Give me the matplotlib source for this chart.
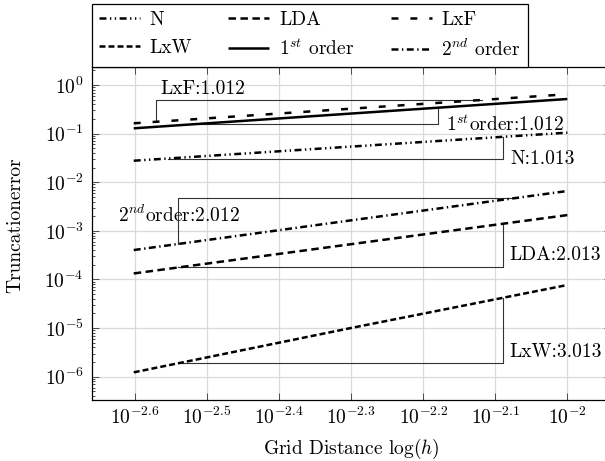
import numpy as np
import matplotlib
matplotlib.use("Agg")
import matplotlib.pyplot as plt
from matplotlib.ticker import FixedLocator, FixedFormatter, LogLocator, NullFormatter, NullLocator

plt.rcParams['font.family'] = ['cmr10', 'DejaVu Serif']
plt.rcParams['mathtext.fontset'] = 'cm'
plt.rcParams['axes.formatter.use_mathtext'] = True
plt.rcParams['lines.scale_dashes'] = False
plt.rcParams['font.size'] = 14

# grid distances and truncation errors
h = [0.0025, 0.005, 0.01]
err_N = [0.0277, 0.054, 0.1045]
err_LDA = [1.33e-4, 5.3e-4, 2.11e-3]
err_LxF = [0.163, 0.325, 0.645]
err_LxW = [1.23e-6, 1.0e-5, 7.7e-5]
err_1st = [0.1285, 0.258, 0.515]
err_2nd = [4.03e-4, 1.64e-3, 6.6e-3]

labels = ["N", "LDA", "LxF", "LxW", r"$1^{st}$ order", r"$2^{nd}$ order"]
slope_labels = ["N:1.013", "LDA:2.013", "LxF:1.012", "LxW:3.013",
                r"$1^{st}$order:1.012", r"$2^{nd}$order:2.012"]
xtick_exp = ["-2.6", "-2.5", "-2.4", "-2.3", "-2.2", "-2.1", "-2"]

series = [err_N, err_LDA, err_LxF, err_LxW, err_1st, err_2nd]
dashes = [(5, 2.5, 1, 2.5, 1, 2.5), (5.4, 3.2), (5.0, 8.6), (4.3, 2.2), None, (5, 2.5, 1, 2.5)]

fig = plt.figure(figsize=(6.05, 4.61), dpi=100)
ax = fig.add_axes([0.1521, 0.1323, 0.857, 0.723])
ax.set_xscale('log')
ax.set_yscale('log')

handles = []
for vals, lab, d in zip(series, labels, dashes):
    ln, = ax.plot(h, vals, color='black', lw=1.8, label=lab, solid_capstyle='butt',
                  dash_capstyle='butt')
    if d is not None:
        ln.set_dashes(d)
    handles.append(ln)


def yat(vals, lx):
    return 10 ** np.interp(lx, np.log10(h), np.log10(vals))


# slope triangles: (series index, x1, x2, side)
tri = [(2, -2.571, -2.119, 'above'), (4, -2.511, -2.18, 'below'),
       (0, -2.555, -2.089, 'below'), (5, -2.541, -2.07, 'above'),
       (1, -2.54, -2.089, 'below'), (3, -2.541, -2.089, 'below')]
for i, a, b, side in tri:
    v = series[i]
    xa, xb = 10 ** a, 10 ** b
    ya, yb = yat(v, a), yat(v, b)
    if side == 'above':
        xs, ys = [xa, xa, xb], [ya, yb, yb]
    else:
        xs, ys = [xa, xb, xb], [ya, ya, yb]
    ax.plot(xs, ys, color='0.2', lw=0.8, zorder=1)

# slope labels: (series index, x, y) in log10 units
lab_pos = [(2, -2.565, -0.082), (4, -2.169, -0.823), (0, -2.079, -1.529),
           (5, -2.624, -2.675), (1, -2.080, -3.498), (3, -2.080, -5.488)]
for i, lx, ly in lab_pos:
    ax.text(10 ** lx, 10 ** ly, slope_labels[i], ha='left', va='center')

xt = [10 ** float(e) for e in xtick_exp]
ax.xaxis.set_major_locator(FixedLocator(xt))
ax.xaxis.set_major_formatter(FixedFormatter([r"$10^{%s}$" % e for e in xtick_exp]))
ax.xaxis.set_minor_locator(NullLocator())
ax.yaxis.set_major_locator(LogLocator(base=10, numticks=20))
ax.yaxis.set_minor_locator(LogLocator(base=10, subs=np.arange(2, 10), numticks=20))
ax.yaxis.set_minor_formatter(NullFormatter())

ax.set_xlim(10 ** -2.66, 10 ** -1.94)
ax.set_ylim(10 ** -6.479, 10 ** 0.376)

ax.grid(True, which='major', color='#d9d9d9', lw=0.9, zorder=0)
ax.set_axisbelow(True)
ax.tick_params(which='both', direction='in', top=True, right=True, width=0.6, color='0.2')
ax.tick_params(which='major', length=5)
ax.tick_params(which='minor', length=2.5)
ax.tick_params(axis='y', pad=6)
ax.tick_params(axis='x', pad=5)
for s in ax.spines.values():
    s.set_linewidth(0.9)

ax.set_xlabel(r"Grid Distance $\log(h)$", labelpad=6)
ax.set_ylabel("Truncationerror")
ax.yaxis.set_label_coords(-0.131, 0.525)

# matplotlib fills legend columns first; reorder so rows read N, LDA, LxF / LxW, 1st, 2nd
order = [0, 3, 1, 4, 2, 5]
leg = ax.legend(handles=[handles[k] for k in order], loc='lower left',
                bbox_to_anchor=(0, 1, 0.84, 0.183),
                mode='expand', ncol=3, borderaxespad=0, fancybox=False,
                edgecolor='black', framealpha=1, handlelength=2.1,
                handletextpad=0.5, borderpad=0.35, labelspacing=0.5)
leg.get_frame().set_linewidth(0.9)

fig.savefig("out.png", dpi=100)
